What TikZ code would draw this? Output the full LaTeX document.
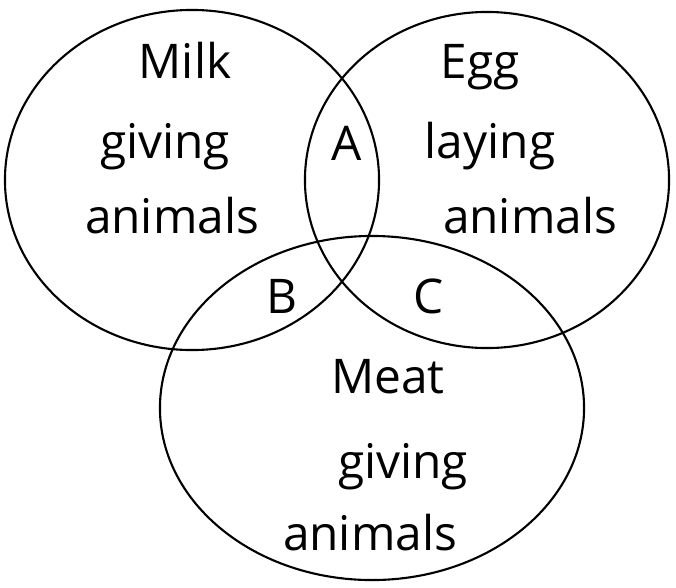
\documentclass[tikz,border=0pt]{standalone}
\usepackage{fontspec}
\setmainfont{Open Sans}
\usetikzlibrary{shapes.geometric}

\begin{document}
\begin{tikzpicture}[
  x=0.025cm, y=-0.025cm,
  set/.style={ellipse, draw=black, line width=1.5pt, inner sep=0pt},
  lbl/.style={anchor=base, inner sep=0pt, font=\fontsize{34}{40}\selectfont}
]
  \useasboundingbox (0,0) rectangle (676,587);

  % the three sets
  \node[set, minimum width=9.35cm, minimum height=8.5cm] (milk) at (192,180) {};
  \node[set, minimum width=9.1cm,  minimum height=8.4cm] (egg)  at (487,180) {};
  \node[set, minimum width=10.6cm, minimum height=8.6cm] (meat) at (372,408) {};

  % set labels
  \node[lbl] (milk1) at (185,78)  {Milk};
  \node[lbl] (milk2) at (165,158) {giving};
  \node[lbl] (milk3) at (172,233) {animals};

  \node[lbl] (egg1) at (480,78)  {Egg};
  \node[lbl] (egg2) at (490,158) {laying};
  \node[lbl] (egg3) at (530,233) {animals};

  \node[lbl] (meat1) at (388,393) {Meat};
  \node[lbl] (meat2) at (403,478) {giving};
  \node[lbl] (meat3) at (370,550) {animals};

  % overlaps
  \node[lbl] (a) at (347,160) {A};
  \node[lbl] (b) at (282,313) {B};
  \node[lbl] (c) at (429,313) {C};
\end{tikzpicture}
\end{document}
